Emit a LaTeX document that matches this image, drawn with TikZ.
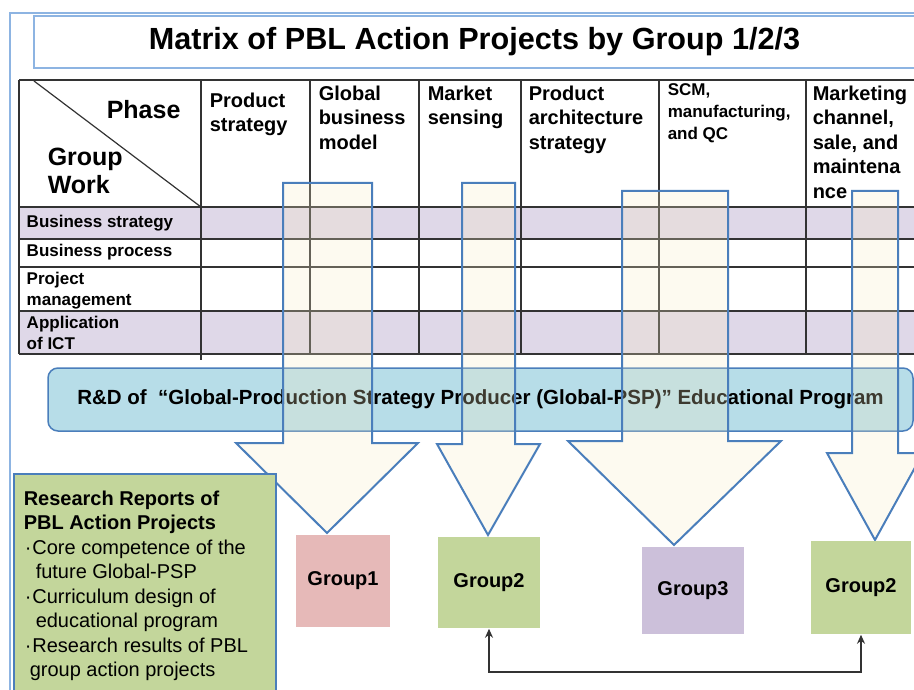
\documentclass[tikz,border=0pt]{standalone}
\usepackage{fontspec}
\setmainfont{Liberation Sans}
\usetikzlibrary{arrows.meta}
\usetikzlibrary{calc}
\definecolor{frame1}{RGB}{141, 180, 226}
\definecolor{blue1}{RGB}{74, 126, 187}
\definecolor{lav1}{RGB}{223, 216, 232}
\definecolor{cream1}{RGB}{247, 235, 195}
\definecolor{sky1}{RGB}{183, 221, 232}
\definecolor{green1}{RGB}{195, 214, 155}
\definecolor{pink1}{RGB}{230, 185, 184}
\definecolor{purple1}{RGB}{204, 192, 218}
\definecolor{grid1}{RGB}{51, 51, 51}

\begin{document}
\begin{tikzpicture}[x=1pt, y=-1pt, line width=1.5pt,
  hdr/.style={anchor=north west, inner sep=0pt, align=left, font=\fontsize{20}{24.5}\selectfont\bfseries},
  rowlab/.style={anchor=north west, inner sep=0pt, align=left, font=\fontsize{17}{21.5}\selectfont\bfseries},
  bigarrow/.style={draw=blue1, line width=2pt, fill=cream1, fill opacity=0.25, line join=miter},
  grp/.style={inner sep=0pt, font=\fontsize{20}{24}\selectfont\bfseries}]
  \useasboundingbox (0,0) rectangle (914,690);
  \clip (0,0) rectangle (914,690);
  % frame and title
  \draw[frame1, line width=2pt] (10,690) -- (10,13) -- (914,13);
  \node[draw=frame1, line width=2pt, anchor=north west, inner sep=0pt, minimum width=881, minimum height=52,
    font=\fontsize{30.6}{36}\selectfont\bfseries] (title) at (33,15) {Matrix of PBL Action Projects by Group 1/2/3};
  % matrix
  \fill[lav1] (19,207) rectangle (914,239);
  \fill[lav1] (19,311) rectangle (914,354);
  \foreach \y in {80,207,239,267,311,354}
    \draw[grid1] (19,\y) -- (914,\y);
  \foreach \x in {19,310,419,521,659,806}
    \draw[grid1] (\x,80) -- (\x,354);
  \draw[grid1] (201,80) -- (201,360);
  \draw[grid1, line width=1.2pt] (34,81) -- (201,207);
  \node[anchor=north west, inner sep=0pt, font=\fontsize{25}{28}\selectfont\bfseries] (phase) at (106,100) {Phase};
  \node[anchor=north west, inner sep=0pt, align=left, font=\fontsize{25}{28}\selectfont\bfseries] (gwork) at (47,147) {Group\\Work};
  \node[hdr] (c1) at (209,92) {Product\\strategy};
  \node[hdr] (c2) at (318,85) {Global\\business\\model};
  \node[hdr] (c3) at (427,85) {Market\\sensing};
  \node[hdr] (c4) at (528,85) {Product\\architecture\\strategy};
  \node[hdr, font=\fontsize{17}{22}\selectfont\bfseries] (c5) at (667,83) {SCM,\\manufacturing,\\and QC};
  \node[hdr] (c6) at (812,85) {Marketing\\channel,\\sale, and\\maintena\\nce};
  \node[rowlab] (r1) at (26,214) {Business strategy};
  \node[rowlab] (r2) at (26,243) {Business process};
  \node[rowlab] (r3) at (26,271) {Project\\management};
  \node[rowlab] (r4) at (26,315) {Application\\of ICT};
  % program bar
  \node[draw=blue1, fill=sky1, rounded corners=10pt, minimum width=865, minimum height=63,
    font=\fontsize{20.5}{24}\selectfont\bfseries] (rnd) at (480.5,399.5)
    {R\&D of~~“Global-Production Strategy Producer (Global-PSP)" Educational Program};
  % big arrows
  \foreach \sl/\sr/\tp/\nk/\hl/\hr/\tx/\ty in {283/372/183/443/236/418/327/533, 462/515/183/444/437/540/488/535,
      622/728/191/441/568/781/674/545, 852/898/191/453/827/923/875/540}
    \draw[bigarrow] (\sl,\tp) -- (\sr,\tp) -- (\sr,\nk) -- (\hr,\nk) -- (\tx,\ty) -- (\hl,\nk) -- (\sl,\nk) -- cycle;
  % reports
  \draw[draw=blue1, fill=green1] (14,474) rectangle (276,700);
  \node[anchor=north west, inner sep=0pt, align=left, font=\fontsize{20}{24.5}\selectfont] (rep) at (23,490)
    {\textbf{Research Reports of}\\ \textbf{PBL Action Projects}\\
     \hspace*{1pt}·\hspace{1pt}Core competence of the\\ \hspace*{12pt}future Global-PSP\\
     \hspace*{1pt}·\hspace{1pt}Curriculum design of\\ \hspace*{12pt}educational program\\
     \hspace*{1pt}·\hspace{1pt}Research results of PBL\\ \hspace*{6pt}group action projects};
  % groups
  \node[grp, fill=pink1, minimum width=94, minimum height=92] (g1) at (343,581) {Group1};
  \node[grp, fill=green1, minimum width=102, minimum height=91] (g2a) at (489,582.5) {Group2};
  \node[grp, fill=purple1, minimum width=102, minimum height=87] (g3) at (693,590.5) {Group3};
  \node[grp, fill=green1, minimum width=100, minimum height=93] (g2b) at (861,587.5) {Group2};
  \draw[grid1, line width=2pt, {Stealth[length=9pt,width=8pt]}-{Stealth[length=9pt,width=8pt]}]
    (g2a.south) |- ($(g2b.south)+(0,37)$) -- (g2b.south);
\end{tikzpicture}
\end{document}
